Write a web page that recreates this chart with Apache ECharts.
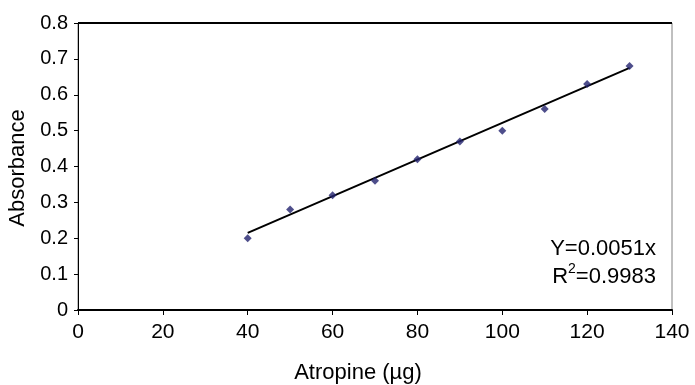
<!DOCTYPE html>
<html>
<head>
<meta charset="utf-8">
<script src="https://cdn.jsdelivr.net/npm/echarts@6/dist/echarts.min.js"></script>
<style>
  html, body { margin: 0; padding: 0; background: #fff; }
  #chart { width: 695px; height: 385px; }
</style>
</head>
<body>
<div id="chart"></div>
<script>
// measured points
const atropine = [40, 50, 60, 70, 80, 90, 100, 110, 120, 130];
const absorbance = [0.20, 0.28, 0.32, 0.36, 0.42, 0.47, 0.50, 0.56, 0.63, 0.68];
// fitted line ends
const trendX = [40, 130];
const trendY = [0.215, 0.675];

const font = 'Liberation Sans, Arial, sans-serif';

const chart = echarts.init(document.getElementById('chart'));
chart.setOption({
  animation: false,
  grid: { left: 78, right: 23, top: 23, bottom: 75, show: true, borderColor: '#808080', borderWidth: 1, containLabel: false },
  xAxis: {
    type: 'value',
    min: 0,
    max: 140,
    interval: 20,
    splitLine: { show: false },
    axisLine: { lineStyle: { color: '#000', width: 2 } },
    axisTick: { show: true, length: 5, lineStyle: { color: '#000' } },
    axisLabel: { color: '#000', fontSize: 21, fontFamily: font, margin: 12 }
  },
  yAxis: {
    type: 'value',
    min: 0,
    max: 0.8,
    interval: 0.1,
    splitLine: { show: false },
    axisLine: { show: true, lineStyle: { color: '#000', width: 1 } },
    axisTick: { show: true, length: 4, lineStyle: { color: '#000' } },
    axisLabel: { color: '#000', fontSize: 20, fontFamily: font, margin: 10 }
  },
  graphic: [
    { type: 'line', shape: { x1: 78, y1: 23, x2: 672, y2: 23 }, style: { stroke: '#000', lineWidth: 2 } },
    { type: 'text', x: 358, y: 373, style: { text: 'Atropine (µg)', fill: '#000', font: '22px ' + font, textAlign: 'center', textVerticalAlign: 'middle' } },
    { type: 'text', x: 18, y: 168, rotation: Math.PI / 2, style: { text: 'Absorbance', fill: '#000', font: '22px ' + font, textAlign: 'center', textVerticalAlign: 'middle' } },
    { type: 'text', x: 656, y: 249, style: { text: 'Y=0.0051x', fill: '#000', font: '22px ' + font, textAlign: 'right', textVerticalAlign: 'middle' } },
    {
      type: 'text', x: 656, y: 275,
      style: {
        text: '{n|R}{s|2}{n|=0.9983}',
        textAlign: 'right',
        textVerticalAlign: 'middle',
        rich: {
          n: { fontSize: 22, fontFamily: font, fill: '#000', lineHeight: 26, verticalAlign: 'bottom' },
          s: { fontSize: 14, fontFamily: font, fill: '#000', lineHeight: 26, verticalAlign: 'top', padding: [0, 0, 9, 0] }
        }
      }
    }
  ],
  series: [
    {
      type: 'line',
      data: trendX.map((x, i) => [x, trendY[i]]),
      symbol: 'none',
      lineStyle: { color: '#000', width: 2 },
      silent: true,
      z: 1
    },
    {
      type: 'scatter',
      data: atropine.map((x, i) => [x, absorbance[i]]),
      symbol: 'diamond',
      symbolSize: 8,
      itemStyle: { color: '#22226e' },
      z: 3
    }
  ]
});
</script>
</body>
</html>
